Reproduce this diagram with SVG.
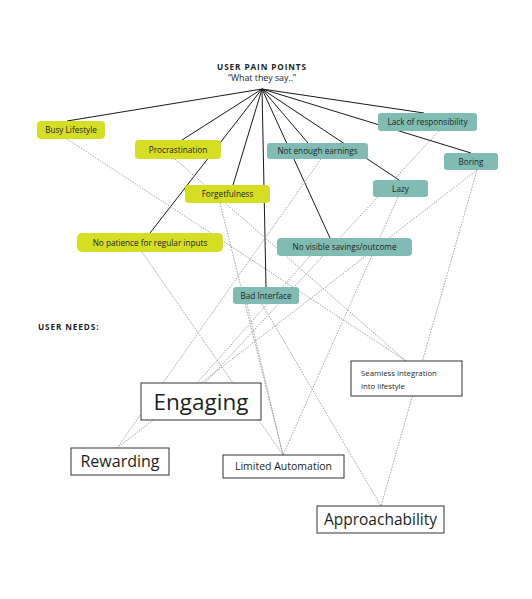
<svg xmlns="http://www.w3.org/2000/svg" width="532" height="599" viewBox="0 0 532 599">
<style>
text{font-family:"Open Sans","Liberation Sans",sans-serif;fill:#231f20}
.t{font-size:8.2px;text-anchor:middle}
.y{fill:#d6de23}
.g{fill:#80bcb4}
.n{fill:#fff;stroke:#333;stroke-width:1}
.s{stroke:#1a1a1a;stroke-width:1;fill:none}
.d{stroke:#8a8a8a;stroke-width:0.8;stroke-dasharray:1.5 1.3;fill:none}
.h{font-weight:700;font-size:8.2px;letter-spacing:0.9px}
</style>
<rect width="532" height="599" fill="#fff"/>
<g id="title">
<text class="h" x="262" y="70" text-anchor="middle">USER PAIN POINTS</text>
<text x="262" y="81" font-size="8.8" text-anchor="middle">“What they say..”</text>
</g>
<text class="h" x="38" y="330" font-size="7.6">USER NEEDS:</text>
<g id="connectors">
<path class="s" d="M262 89L67 121M262 89L182 140M262 89L150 233M262 89L233 185M262 89L266 287M262 89L330 238M262 89L308 143M262 89L399 180M262 89L424 113M262 89L471 153"/>
<path class="d" d="M67 139L406 361M175 159L406 361M220 203L283 455M142 252L283 455M321 159L117 448M477 170L117 448M477 170L381 506M439 131L205 383M310 256L197 383M398 197L283 455M247 304L283 455M262 304L381 506"/>
</g>
<g id="busy"><rect class="y" x="37" y="121" width="68" height="18" rx="4"/><text class="t" x="71" y="133">Busy Lifestyle</text></g>
<g id="procrastination"><rect class="y" x="135" y="140" width="86" height="19" rx="4"/><text class="t" x="178" y="152.5">Procrastination</text></g>
<g id="forgetfulness"><rect class="y" x="185" y="185" width="85" height="18" rx="4"/><text class="t" x="227.5" y="197">Forgetfulness</text></g>
<g id="nopatience"><rect class="y" x="77" y="233" width="146" height="19" rx="5"/><text class="t" x="150" y="245.5">No patience for regular inputs</text></g>
<g id="notenough"><rect class="g" x="267" y="143" width="101" height="16" rx="3"/><text class="t" x="317.5" y="154">Not enough earnings</text></g>
<g id="lack"><rect class="g" x="378" y="113" width="99" height="18" rx="3"/><text class="t" x="427.5" y="125">Lack of responsibility</text></g>
<g id="boring"><rect class="g" x="444" y="153" width="54" height="17" rx="3"/><text class="t" x="471" y="164.5">Boring</text></g>
<g id="lazy"><rect class="g" x="373" y="180" width="55" height="17" rx="3"/><text class="t" x="400.5" y="191.5">Lazy</text></g>
<g id="novisible"><rect class="g" x="277" y="238" width="135" height="18" rx="4"/><text class="t" x="344.5" y="250">No visible savings/outcome</text></g>
<g id="badinterface"><rect class="g" x="233" y="287" width="66" height="17" rx="3"/><text class="t" x="266" y="298.5">Bad Interface</text></g>
<g id="engaging"><rect class="n" x="141" y="383" width="120" height="37"/><text x="201" y="409.5" font-size="22.5" text-anchor="middle">Engaging</text></g>
<g id="rewarding"><rect class="n" x="71" y="448" width="98" height="27"/><text x="120" y="467" font-size="16" text-anchor="middle">Rewarding</text></g>
<g id="limited"><rect class="n" x="223" y="455" width="121" height="23"/><text x="283.5" y="470" font-size="10.5" text-anchor="middle">Limited Automation</text></g>
<g id="seamless"><rect class="n" x="351" y="361" width="111" height="35"/><text x="361" y="376" font-size="7.8">Seamless integration</text><text x="361" y="389" font-size="7.8">into lifestyle</text></g>
<g id="approachability"><rect class="n" x="317" y="506" width="127" height="27"/><text x="380.5" y="525" font-size="15.5" text-anchor="middle">Approachability</text></g>
</svg>
